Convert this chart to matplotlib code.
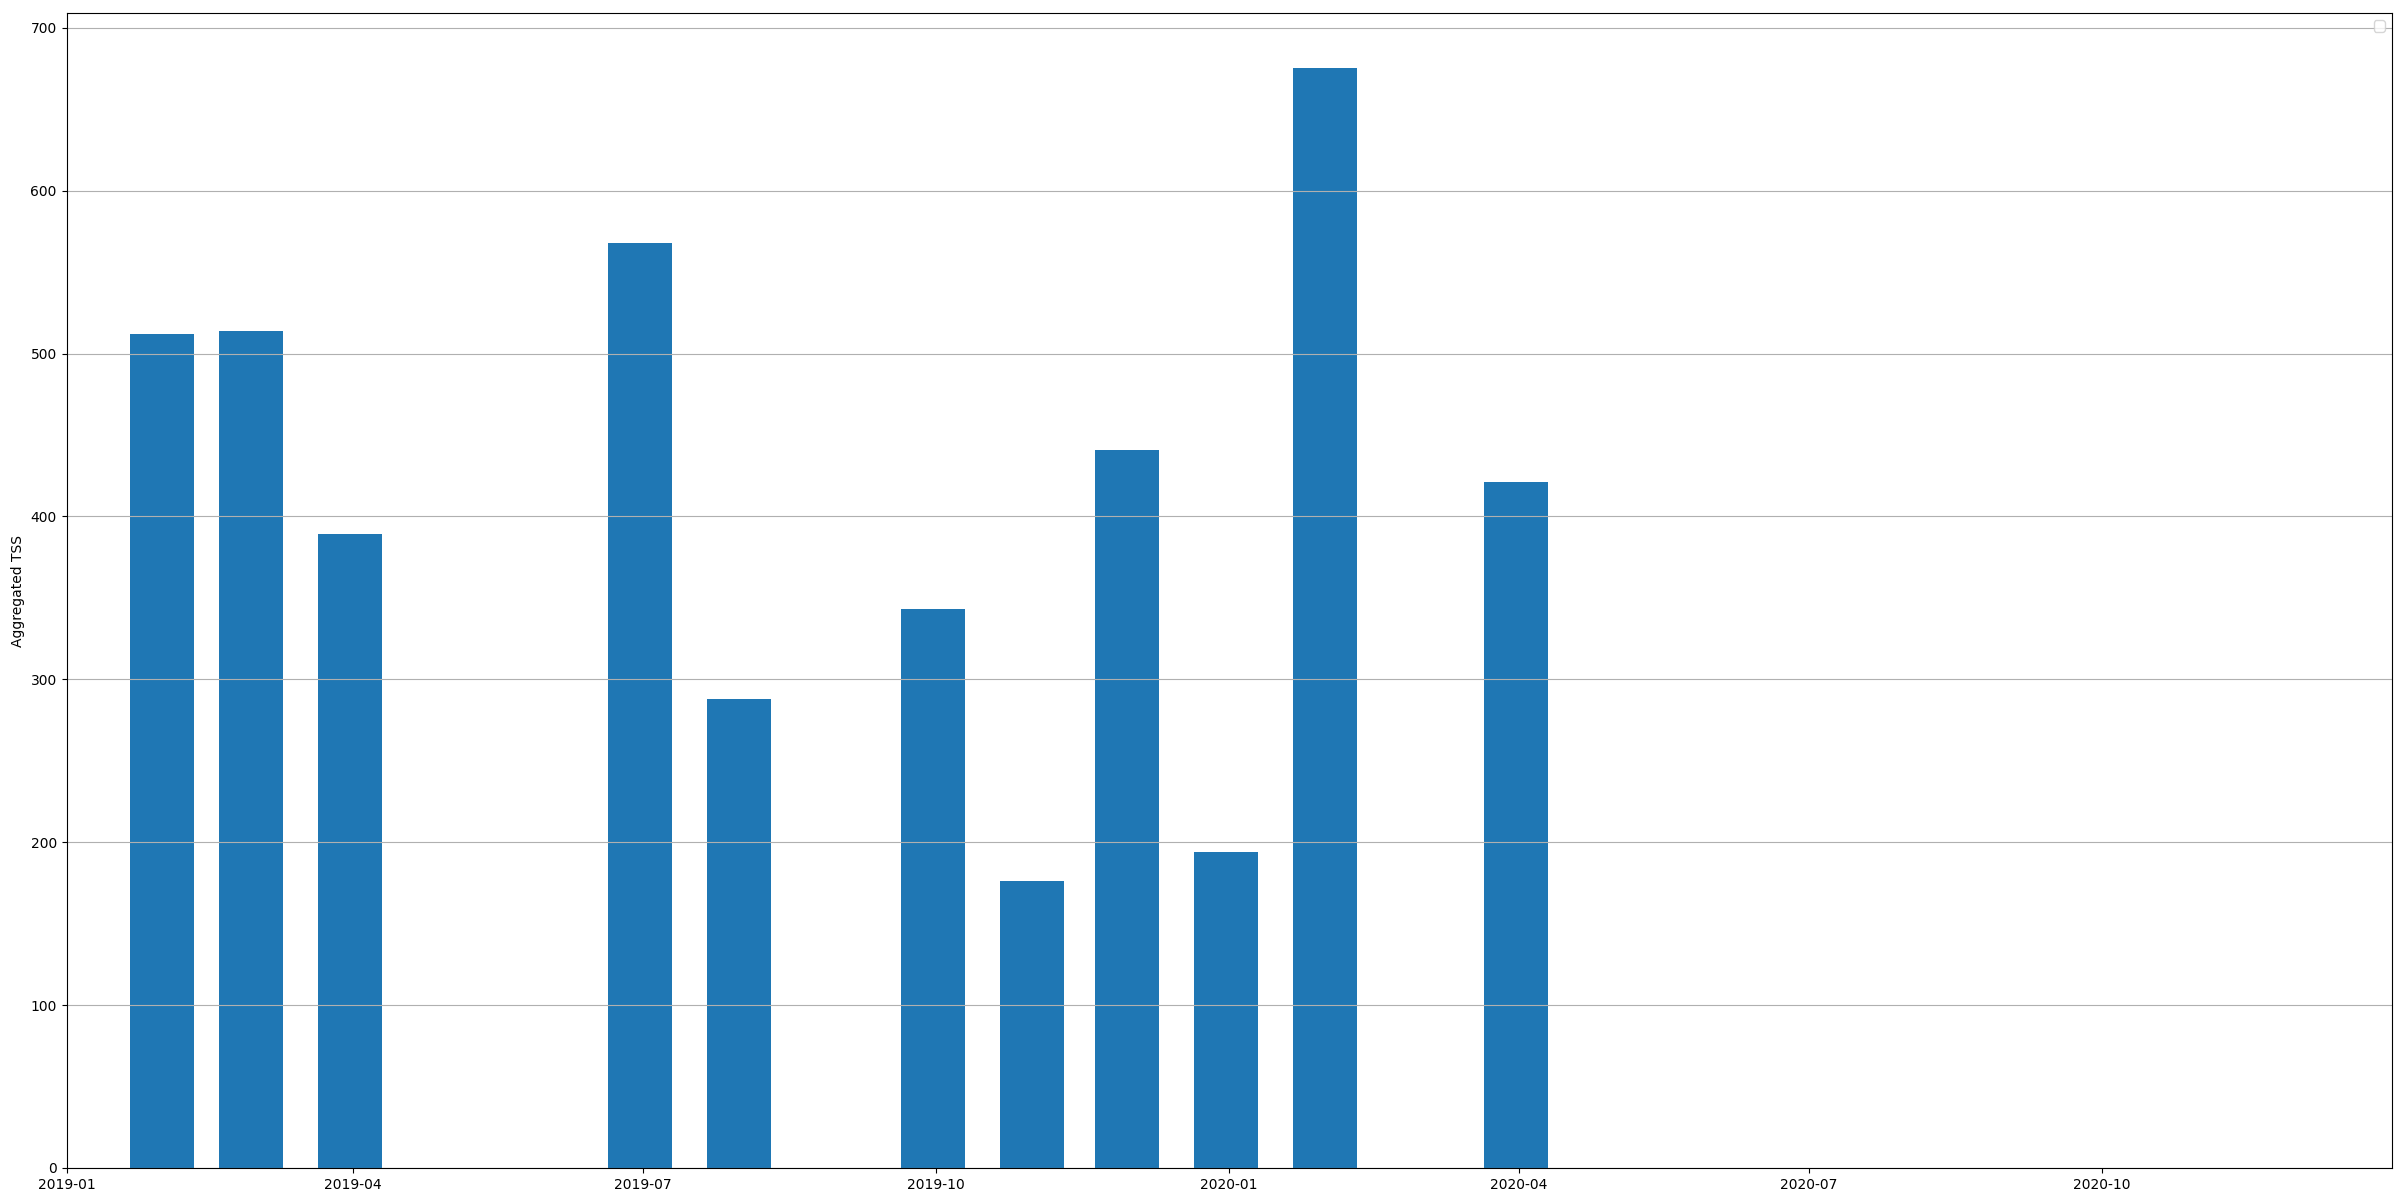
import pandas as pd
import matplotlib.pyplot as plt

# monthly aggregated TSS (month-end dates)
dates = pd.to_datetime([
    "2019-01-31", "2019-02-28", "2019-03-31", "2019-06-30", "2019-07-31",
    "2019-09-30", "2019-10-31", "2019-11-30", "2019-12-31", "2020-01-31",
    "2020-03-31",
])
tss = [512, 514, 389, 568, 288, 343, 176, 441, 194, 675, 421]

fig, ax = plt.subplots(figsize=(24.04, 12.02), dpi=100)
fig.subplots_adjust(left=0.0277, right=0.9949, top=0.9888, bottom=0.0283)

ax.bar(dates, tss, width=20)
ax.set_xlim(pd.Timestamp("2019-01-01"), pd.Timestamp("2020-12-31"))
ax.set_ylabel("Aggregated TSS")
ax.grid(True, axis="y")
ax.legend()

fig.savefig("out.png", dpi=100)
